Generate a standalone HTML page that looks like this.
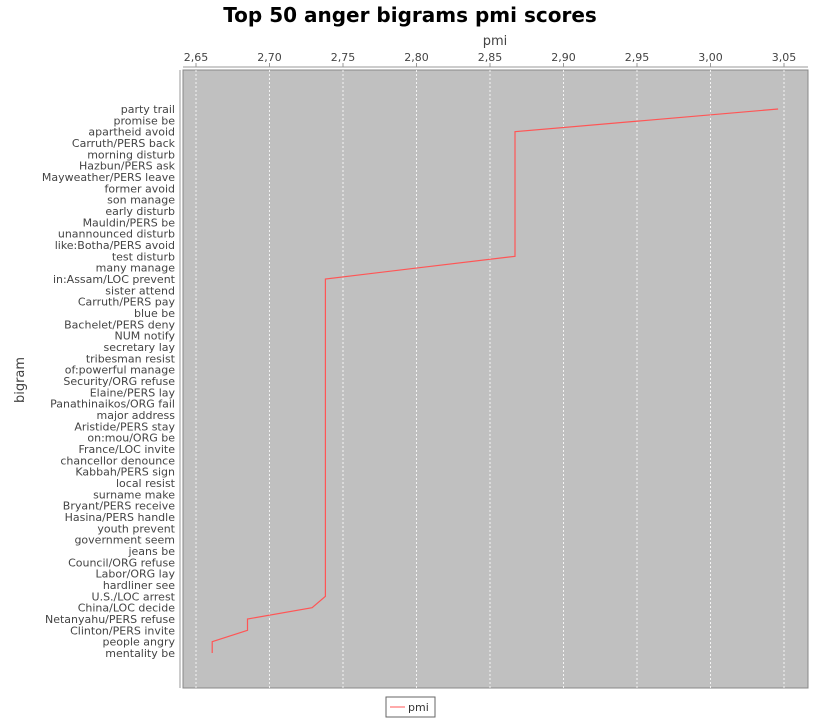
<!DOCTYPE html>
<html><head><meta charset="utf-8"><style>
body{margin:0;background:#fff;font-family:"DejaVu Sans","Liberation Sans",sans-serif;}
svg text{font-family:"DejaVu Sans","Liberation Sans",sans-serif;}
</style></head><body>
<svg id="c" width="820" height="720">
<text x="410" y="22" text-anchor="middle" font-size="20" font-weight="bold">Top 50 anger bigrams pmi scores</text>
<text x="495" y="45" text-anchor="middle" font-size="13" fill="#444">pmi</text>
<text x="24" y="380" text-anchor="middle" font-size="13" fill="#444" transform="rotate(-90 24 380)">bigram</text>
<rect x="183" y="70" width="625" height="618" fill="#c0c0c0" stroke="#888"/>
<line x1="183" y1="67" x2="808" y2="67" stroke="#999"/>
<line x1="180" y1="70" x2="180" y2="688" stroke="#999"/>
<g id="grid"></g><g id="xt"></g><g id="yt"></g><g id="series"></g>
<rect x="386" y="697" width="49" height="20" fill="#fff" stroke="#666"/>
<line x1="390" y1="707" x2="405" y2="707" stroke="#ff5555"/>
<text x="408" y="711" font-size="11" fill="#333">pmi</text>
</svg>
<script>
const categories=["party trail","promise be","apartheid avoid","Carruth/PERS back","morning disturb","Hazbun/PERS ask","Mayweather/PERS leave","former avoid","son manage","early disturb","Mauldin/PERS be","unannounced disturb","like:Botha/PERS avoid","test disturb","many manage","in:Assam/LOC prevent","sister attend","Carruth/PERS pay","blue be","Bachelet/PERS deny","NUM notify","secretary lay","tribesman resist","of:powerful manage","Security/ORG refuse","Elaine/PERS lay","Panathinaikos/ORG fail","major address","Aristide/PERS stay","on:mou/ORG be","France/LOC invite","chancellor denounce","Kabbah/PERS sign","local resist","surname make","Bryant/PERS receive","Hasina/PERS handle","youth prevent","government seem","jeans be","Council/ORG refuse","Labor/ORG lay","hardliner see","U.S./LOC arrest","China/LOC decide","Netanyahu/PERS refuse","Clinton/PERS invite","people angry","mentality be"];
const values=[3.046,2.957,2.867,2.867,2.867,2.867,2.867,2.867,2.867,2.867,2.867,2.867,2.867,2.867,2.802,2.738,2.738,2.738,2.738,2.738,2.738,2.738,2.738,2.738,2.738,2.738,2.738,2.738,2.738,2.738,2.738,2.738,2.738,2.738,2.738,2.738,2.738,2.738,2.738,2.738,2.738,2.738,2.738,2.738,2.729,2.685,2.685,2.661,2.661];
const ticks=[2.65,2.70,2.75,2.80,2.85,2.90,2.95,3.00,3.05];
const tickLabels=["2,65","2,70","2,75","2,80","2,85","2,90","2,95","3,00","3,05"];
const NS="http://www.w3.org/2000/svg";
const X=v=>196+(v-2.65)*1470;
const Y=i=>109+i*(653-109)/(categories.length-1);
function mk(t,a,p){const e=document.createElementNS(NS,t);for(const k in a)e.setAttribute(k,a[k]);p.appendChild(e);return e;}
ticks.forEach((t,i)=>{
 const g=mk('line',{x1:X(t),x2:X(t),y1:70,y2:688,stroke:'#fff','stroke-dasharray':'2,2','stroke-width':0.8},document.getElementById('grid'));
 
 
 mk('line',{x1:X(t),x2:X(t),y1:63,y2:67,stroke:'#999'},document.getElementById('xt'));
 const tx=mk('text',{x:X(t),y:61,'text-anchor':'middle','font-size':11,fill:'#444'},document.getElementById('xt'));
 tx.textContent=tickLabels[i];
 
 
});
categories.forEach((c,i)=>{
 const tx=mk('text',{x:175,y:Y(i)+4,'text-anchor':'end','font-size':11,fill:'#444'},document.getElementById('yt'));
 tx.textContent=c;
 
 
});
const pts=values.map((v,i)=>X(v).toFixed(1)+','+Y(i).toFixed(1)).join(' ');
const pl=mk('polyline',{points:pts,fill:'none',stroke:'#ff5555','stroke-width':1.2},document.getElementById('series'));


</script>
</body></html>
